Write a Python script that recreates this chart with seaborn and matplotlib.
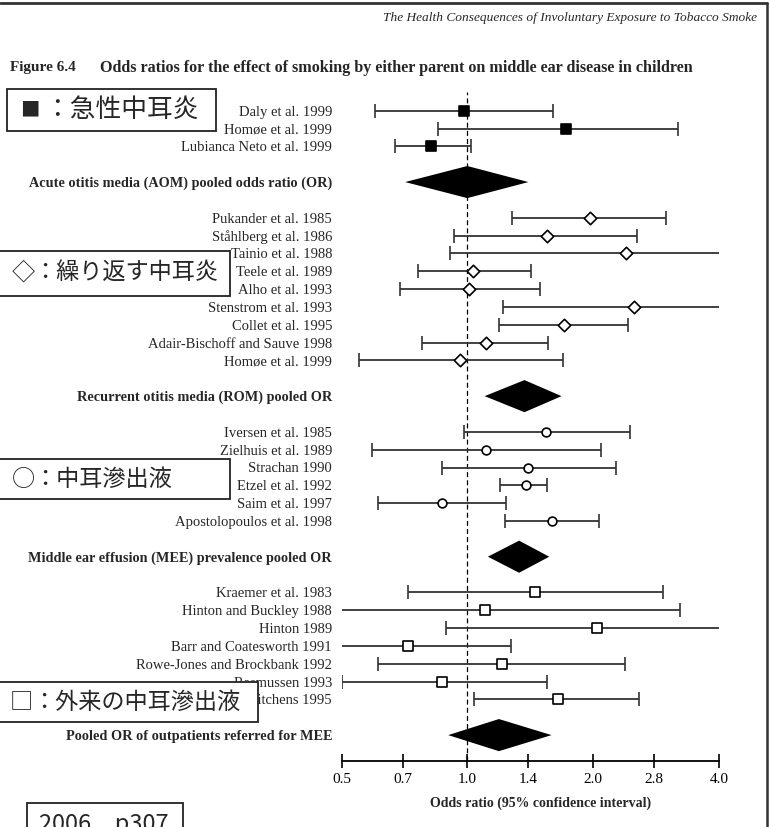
import matplotlib
matplotlib.use("Agg")
import matplotlib.pyplot as plt
from matplotlib.patches import Rectangle
from matplotlib.lines import Line2D
from matplotlib.ticker import NullLocator
import seaborn as sns
import pandas as pd

# ---------------- data ----------------
aom_studies = ["Daly et al. 1999", "Homøe et al. 1999", "Lubianca Neto et al. 1999"]
aom_or = [0.98, 1.72, 0.82]
aom_lo = [0.60, 0.85, 0.67]
aom_hi = [1.60, 3.20, 1.02]
aom_pooled = [0.71, 1.00, 1.40]  # lower, estimate, upper

rom_studies = ["Pukander et al. 1985", "Ståhlberg et al. 1986", "Tainio et al. 1988",
               "Teele et al. 1989", "Alho et al. 1993", "Stenstrom et al. 1993",
               "Collet et al. 1995", "Adair-Bischoff and Sauve 1998", "Homøe et al. 1999"]
rom_or = [1.97, 1.55, 2.39, 1.03, 1.01, 2.51, 1.70, 1.11, 0.96]
rom_lo = [1.28, 0.93, 0.91, 0.76, 0.69, 1.22, 1.19, 0.78, 0.55]
rom_hi = [2.98, 2.55, 4.40, 1.42, 1.49, 4.60, 2.42, 1.56, 1.69]
rom_pooled = [1.10, 1.37, 1.68]

mee_studies = ["Iversen et al. 1985", "Zielhuis et al. 1989", "Strachan 1990",
               "Etzel et al. 1992", "Saim et al. 1997", "Apostolopoulos et al. 1998"]
mee_or = [1.54, 1.11, 1.40, 1.38, 0.87, 1.59]
mee_lo = [0.98, 0.59, 0.87, 1.20, 0.61, 1.23]
mee_hi = [2.45, 2.09, 2.27, 1.55, 1.24, 2.07]
mee_pooled = [1.12, 1.33, 1.57]

out_studies = ["Kraemer et al. 1983", "Hinton and Buckley 1988", "Hinton 1989",
               "Barr and Coatesworth 1991", "Rowe-Jones and Brockbank 1992",
               "Rasmussen 1993", "Kitchens 1995"]
out_or = [1.45, 1.10, 2.04, 0.72, 1.21, 0.87, 1.65]
out_lo = [0.72, 0.45, 0.89, 0.44, 0.61, 0.50, 1.04]
out_hi = [2.94, 3.22, 4.50, 1.27, 2.38, 1.55, 2.58]
out_pooled = [0.90, 1.19, 1.59]

pooled_labels = ["Acute otitis media (AOM) pooled odds ratio (OR)",
                 "Recurrent otitis media (ROM) pooled OR",
                 "Middle ear effusion (MEE) prevalence pooled OR",
                 "Pooled OR of outpatients referred for MEE"]

x_ticks = [0.5, 0.7, 1.0, 1.4, 2.0, 2.8, 4.0]
x_tick_labels = ["0.5", "0.7", "1.0", "1.4", "2.0", "2.8", "4.0"]

header = "The Health Consequences of Involuntary Exposure to Tobacco Smoke"
fig_no = "Figure 6.4"
title = "Odds ratios for the effect of smoking by either parent on middle ear disease in children"
xlabel = "Odds ratio (95% confidence interval)"
jp_symbols = ["■", "◇", "○", "□"]
jp_notes = ["：急性中耳炎", "：繰り返す中耳炎", "：中耳滲出液", "：外来の中耳滲出液"]
source_note = "2006　p307"

# ---------------- build table ----------------
groups = [
    ("AOM", aom_studies, aom_or, aom_lo, aom_hi, aom_pooled),
    ("ROM", rom_studies, rom_or, rom_lo, rom_hi, rom_pooled),
    ("MEE", mee_studies, mee_or, mee_lo, mee_hi, mee_pooled),
    ("OUT", out_studies, out_or, out_lo, out_hi, out_pooled),
]
rows = []
pooled_rows = []
r = 0
for gi, (g, names, ors, los, his, pooled) in enumerate(groups):
    for n, o, lo, hi in zip(names, ors, los, his):
        rows.append(dict(group=g, label=n, est=o, lo=lo, hi=hi, row=r))
        r += 1
    r += 1
    pooled_rows.append(dict(group=g, label=pooled_labels[gi], lo=pooled[0],
                            est=pooled[1], hi=pooled[2], row=r))
    r += 2
df = pd.DataFrame(rows)
dp = pd.DataFrame(pooled_rows)

# ---------------- figure ----------------
sns.set_style("white")
plt.rcParams["font.family"] = ["Liberation Serif", "DejaVu Serif"]

W, H = 770, 827
fig = plt.figure(figsize=(W / 100, H / 100), dpi=100)


def fx(px):
    return px / W


def fy(py):
    return 1 - py / H


row0_px, row_step = 110.7, 17.84
ax_top_px, ax_bot_px = 92.0, 760.7
ax_left_px, ax_right_px = 341.5, 719.0
ax = fig.add_axes([fx(ax_left_px), fy(ax_bot_px),
                   (ax_right_px - ax_left_px) / W, (ax_bot_px - ax_top_px) / H])

# dashed null line
ax.axvline(1.0, color="black", lw=0.9, ls=(0, (4, 2.5)), zorder=1)

# confidence intervals
ax.errorbar(df["est"], df["row"], xerr=[df["est"] - df["lo"], df["hi"] - df["est"]],
            fmt="none", ecolor="#333333", elinewidth=1.3, capsize=4.7, capthick=1.2,
            zorder=2)

# point estimates with seaborn
marker_spec = {
    "AOM": dict(marker="s", s=48, color="black"),
    "ROM": dict(marker="D", s=40, color="white"),
    "MEE": dict(marker="o", s=40, color="white"),
    "OUT": dict(marker="s", s=46, color="white"),
}
for g, spec in marker_spec.items():
    sns.scatterplot(data=df[df["group"] == g], x="est", y="row", ax=ax,
                    marker=spec["marker"], s=spec["s"], color=spec["color"],
                    edgecolor="black", linewidth=1.2, legend=False, zorder=4)

# pooled diamonds
h = 0.9
for _, p in dp.iterrows():
    ax.fill([p["lo"], p["est"], p["hi"], p["est"]],
            [p["row"], p["row"] - h, p["row"], p["row"] + h],
            color="black", lw=0, zorder=3)

ax.set_xscale("log")
ax.set_xlim(x_ticks[0], x_ticks[-1])
ax.set_ylim((ax_bot_px - row0_px) / row_step, (ax_top_px - row0_px) / row_step)
ax.set_xticks(x_ticks)
ax.set_xticklabels(x_tick_labels, fontsize=11)
ax.xaxis.set_minor_locator(NullLocator())
ax.tick_params(axis="x", direction="inout", length=9.4, width=1.2, pad=4.5,
               colors="black", bottom=True)

all_rows = list(df["row"]) + list(dp["row"])
all_labels = list(df["label"]) + list(dp["label"])
ax.set_yticks(all_rows)
ax.set_yticklabels(all_labels, fontsize=10.5)
npool = len(dp)
for t in ax.get_yticklabels()[-npool:]:
    t.set_fontweight("bold")
    t.set_fontsize(10.3)
ax.tick_params(axis="y", length=0, pad=6.8)
ax.set_xlabel("")
ax.set_ylabel("")
for s in ["top", "left", "right"]:
    ax.spines[s].set_visible(False)
ax.spines["bottom"].set_linewidth(1.3)
ax.spines["bottom"].set_color("black")
ax.grid(False)
ax.patch.set_alpha(0)

# ---------------- texts ----------------
fig.text(fx(757), fy(18), header, ha="right", va="center", fontsize=9.6,
         style="italic")
fig.text(fx(10), fy(68), fig_no, ha="left", va="center", fontsize=11,
         fontweight="bold")
fig.text(fx(100), fy(68), title, ha="left", va="center", fontsize=11.6,
         fontweight="bold")
fig.text(fx(541), fy(803), xlabel, ha="center", va="center", fontsize=10,
         fontweight="bold")

# frame lines
fig.add_artist(Line2D([0, fx(767)], [fy(2.5), fy(2.5)], transform=fig.transFigure,
                      color="#333333", lw=2))
fig.add_artist(Line2D([fx(767), fx(767)], [fy(2.5), 0], transform=fig.transFigure,
                      color="#333333", lw=1.8))

# Japanese annotation boxes
cjk = ["Noto Sans CJK JP", "DejaVu Sans"]
boxes = [
    # x0, y0, x1, y1, symbol x, symbol size, text x, text size, center y
    (7, 89, 216, 131, 20, 14, 44, 18.5, 110),
    (-2, 251, 230, 296, 12, 16.7, 33, 16.7, 273.5),
    (-2, 459, 230, 499, 12, 16.7, 33, 16.7, 479),
    (-2, 682, 258, 722, 10, 16.7, 32, 16.7, 702),
]
for i, (x0, y0, x1, y1, sx, ss, tx, ts, ty) in enumerate(boxes):
    fig.add_artist(Rectangle((fx(x0), fy(y1)), (x1 - x0) / W, (y1 - y0) / H,
                             transform=fig.transFigure, facecolor="white",
                             edgecolor="#222222", lw=1.3, zorder=10))
    fig.text(fx(sx), fy(ty), jp_symbols[i], ha="left", va="center", fontsize=ss,
             family=cjk, zorder=11)
    fig.text(fx(tx), fy(ty), jp_notes[i], ha="left", va="center", fontsize=ts,
             family=cjk, zorder=11)

fig.add_artist(Rectangle((fx(27), fy(840)), (183 - 27) / W, (840 - 803) / H,
                         transform=fig.transFigure, facecolor="white",
                         edgecolor="#222222", lw=1.3, zorder=10))
fig.text(fx(39), fy(813), source_note, ha="left", va="top", fontsize=17,
         family=cjk, zorder=11)

fig.savefig("out.png", dpi=100, facecolor="white")
